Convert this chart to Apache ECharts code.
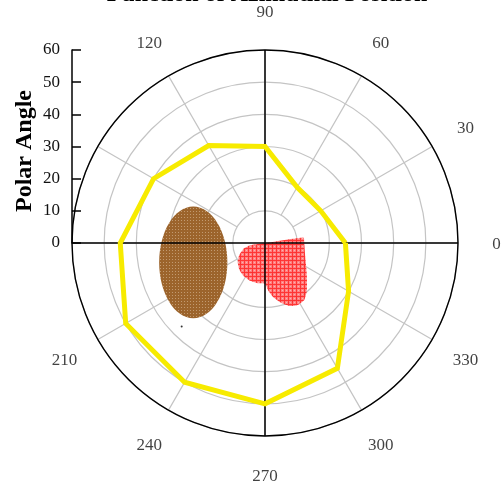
<!DOCTYPE html>
<html>
<head>
<meta charset="utf-8">
<script src="https://cdn.jsdelivr.net/npm/echarts@6/dist/echarts.min.js"></script>
<style>
  html, body { margin: 0; padding: 0; background: #fff; }
  #chart { width: 502px; height: 483px; }
</style>
</head>
<body>
<div id="chart"></div>
<script>
// Azimuth tick labels (degrees); 150 and 180 are left unlabelled beside the radial axis
const angleTickLabels = [0, 30, 60, 90, 120, 210, 240, 270, 300, 330];
const radialMax = 60;
const radialStep = 10;

// Yellow trace: polar angle vs azimuth (closed)
const traceAngles = [0, 30, 60, 90, 120, 150, 180, 210, 240, 270, 300, 330, 360];
const traceRadii  = [25, 20, 20, 30, 35, 40, 45, 50, 50, 50, 45, 30, 25];

// Red lobe outline (radius, azimuth)
const lobeAngles = [8.5, 8.3, 0, 340.5, 323.4, 311.4, 304.6, 298.4, 291.6, 284.2, 278.7, 274, 270,
                    260.6, 248.3, 236.4, 225, 215.3, 206, 195.5, 188.8, 188.5, 180];
const lobeRadii  = [0, 12.1, 12.2, 13.3, 16.2, 19.7, 21.5, 21.8, 21.1, 19.0, 17.1, 14.9, 12.7,
                    12.7, 12.6, 12.2, 11.4, 10.4, 9.0, 7.0, 4.7, 2.1, 0];

// Brown spot: centre (radius, azimuth) and semi-axes (radial units)
const spotCenter = [23.1, 195.1];
const spotSemiAxes = [10.6, 17.4];

// Stray point
const strayPoint = [36.7, 225.1];

const FONT = "'Liberation Serif', 'Times New Roman', serif";

function makePattern(size, base, draw) {
  const c = document.createElement('canvas');
  c.width = size; c.height = size;
  const g = c.getContext('2d');
  g.fillStyle = base; g.fillRect(0, 0, size, size);
  draw(g);
  return { image: c, repeat: 'repeat' };
}
const redPattern = makePattern(4, '#ff7070', g => {
  g.fillStyle = '#ff1a1a';
  g.fillRect(0, 0, 4, 1); g.fillRect(0, 0, 1, 4);
  g.fillStyle = '#ffa8a8';
  g.fillRect(2, 2, 1, 1);
});
const brownPattern = makePattern(3, '#9c642c', g => {
  g.fillStyle = '#c29a70';
  g.fillRect(1, 1, 1, 1);
});

const chart = echarts.init(document.getElementById('chart'), null, { renderer: 'canvas' });

const option = {
  animation: false,
  backgroundColor: '#fff',
  title: {
    text: 'Function of Azimuthal Position',
    left: 267, top: -17, padding: 0, textAlign: 'center',
    textStyle: { fontFamily: FONT, fontSize: 24, fontWeight: 'bold', color: '#000' }
  },
  grid: { left: 72, top: 50, height: 193, width: 10, containLabel: false },
  xAxis: { type: 'value', show: false },
  yAxis: {
    type: 'value', min: 0, max: radialMax, interval: radialStep,
    name: 'Polar Angle', nameLocation: 'middle', nameGap: 35,
    nameTextStyle: { fontFamily: FONT, fontSize: 24, fontWeight: 'bold', color: '#000', padding: [0, 9, 0, 0] },
    axisLine: { show: true, lineStyle: { color: '#000', width: 1.5 } },
    axisTick: { show: true, inside: true, length: 9, lineStyle: { color: '#000', width: 1.5 } },
    axisLabel: { margin: 12, fontFamily: FONT, fontSize: 17, color: '#111' },
    splitLine: { show: false }
  },
  polar: [
    { center: [265, 243], radius: 193 },
    { center: [265, 243], radius: [32, 193] }
  ],
  angleAxis: [
    {
      polarIndex: 0, type: 'value', min: 0, max: 360, interval: 90,
      startAngle: 0, clockwise: false, z: 3,
      axisLine: { show: true, lineStyle: { color: '#000', width: 1.4 } },
      axisTick: { show: false }, axisLabel: { show: false },
      splitLine: { show: true, lineStyle: { color: '#000', width: 1.5 } }
    },
    {
      polarIndex: 1, type: 'value', min: 0, max: 360, interval: 30,
      startAngle: 0, clockwise: false,
      axisLine: { show: false }, axisTick: { show: false }, axisLabel: { show: false },
      splitLine: { show: true, lineStyle: { color: '#c4c4c4', width: 1.2 } }
    }
  ],
  radiusAxis: [
    {
      polarIndex: 0, type: 'value', min: 0, max: radialMax, interval: radialStep,
      axisLine: { show: false }, axisTick: { show: false }, axisLabel: { show: false },
      splitLine: { show: true, lineStyle: { color: '#c4c4c4', width: 1.2 } }
    },
    {
      polarIndex: 1, type: 'value', min: 0, max: 1,
      axisLine: { show: false }, axisTick: { show: false }, axisLabel: { show: false },
      splitLine: { show: false }
    }
  ],
  series: [
    {
      // brown spot
      type: 'custom', coordinateSystem: 'polar', polarIndex: 0, z: 2,
      data: [spotCenter],
      renderItem: function (params, api) {
        const c = api.coord([api.value(0), api.value(1)]);
        const o = api.coord([0, 0]);
        const u = api.coord([radialStep, 0]);
        const k = (u[0] - o[0]) / radialStep;
        return {
          type: 'ellipse',
          shape: { cx: c[0], cy: c[1], rx: spotSemiAxes[0] * k, ry: spotSemiAxes[1] * k },
          style: { fill: brownPattern }
        };
      }
    },
    {
      // red lobe
      type: 'custom', coordinateSystem: 'polar', polarIndex: 0, z: 2,
      data: lobeRadii.map((r, i) => [r, lobeAngles[i]]),
      renderItem: function (params, api) {
        if (params.dataIndexInside !== 0) return null;
        const pts = [];
        for (let i = 0; i < params.dataInsideLength; i++) {
          pts.push(api.coord([api.value(0, i), api.value(1, i)]));
        }
        return {
          type: 'polygon',
          shape: { points: pts, smooth: 0.15 },
          style: { fill: redPattern, opacity: 0.88 }
        };
      }
    },
    {
      type: 'scatter', coordinateSystem: 'polar', polarIndex: 0, z: 2,
      data: [strayPoint], symbolSize: 2, itemStyle: { color: '#000' }
    },
    {
      // yellow trace
      type: 'line', coordinateSystem: 'polar', polarIndex: 0, z: 5,
      data: traceRadii.map((r, i) => [r, traceAngles[i]]),
      symbol: 'none', smooth: false,
      lineStyle: { color: '#f7eb00', width: 5, join: 'miter' }
    },
    {
      // azimuth labels
      type: 'scatter', coordinateSystem: 'polar', polarIndex: 0, clip: false, silent: true,
      data: angleTickLabels.map(a => [72, a]), symbolSize: 0,
      label: {
        show: true, position: 'inside', offset: [0, 1.5],
        formatter: p => String(p.value[1]),
        fontFamily: FONT, fontSize: 17, color: '#111'
      }
    }
  ]
};
chart.setOption(option);
</script>
</body>
</html>
